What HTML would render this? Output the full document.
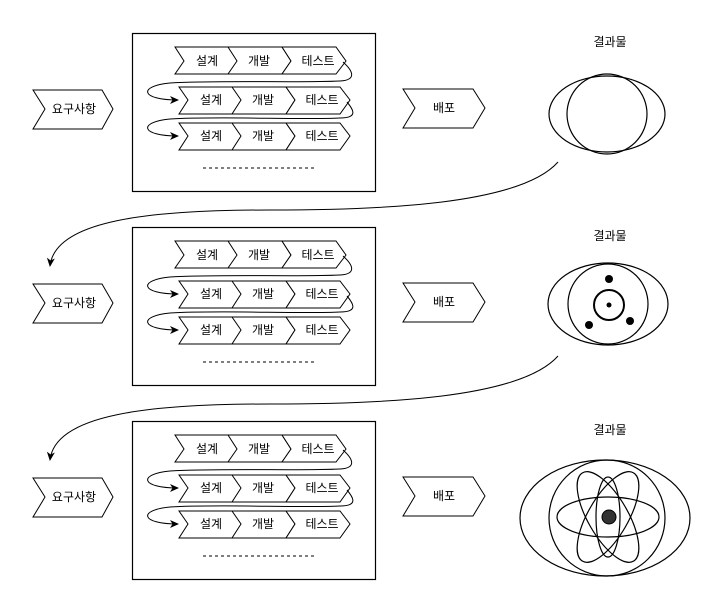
<!DOCTYPE html>
<html><head><meta charset="utf-8"><style>
html,body{margin:0;padding:0;background:#fff;}
svg text{font-family:"Liberation Sans","Noto Sans CJK KR",sans-serif;font-size:12px;fill:#000;text-anchor:middle;dominant-baseline:central;}
</style></head><body>
<svg width="727" height="598" viewBox="0 0 727 598" xmlns="http://www.w3.org/2000/svg">
<defs>
<marker id="ah" markerWidth="10" markerHeight="10" refX="8" refY="5" orient="auto" markerUnits="userSpaceOnUse">
<path d="M0,1 L9,5 L0,9 L2.5,5 Z" fill="#000"/>
</marker>
<g id="blk">
  <rect x="132.5" y="33.5" width="243" height="158" fill="#fff" stroke="#000" stroke-width="1.2"/>
  <g fill="#fff" stroke="#000" stroke-width="1">
    <path d="M175,47 L229,47 L238,61 L229,74 L175,74 L184,61 Z"/>
    <path d="M228,47 L282,47 L291,61 L282,74 L228,74 L237,61 Z"/>
    <path d="M282,47 L336,47 L346,61 L336,74 L282,74 L291,61 Z"/>
    <path d="M179,87 L233,87 L242,100 L233,114 L179,114 L188,100 Z"/>
    <path d="M232,87 L286,87 L295,100 L286,114 L232,114 L241,100 Z"/>
    <path d="M286,87 L340,87 L350,100 L340,114 L286,114 L295,100 Z"/>
    <path d="M179,123 L233,123 L242,136 L233,150 L179,150 L188,136 Z"/>
    <path d="M232,123 L286,123 L295,136 L286,150 L232,150 L241,136 Z"/>
    <path d="M286,123 L340,123 L350,136 L340,150 L286,150 L295,136 Z"/>
  </g>
  <text x="207" y="61">설계</text><text x="259" y="61">개발</text><text x="318" y="61">테스트</text>
  <text x="211" y="100">설계</text><text x="263" y="100">개발</text><text x="322" y="100">테스트</text>
  <text x="211" y="136">설계</text><text x="263" y="136">개발</text><text x="322" y="136">테스트</text>
  <path d="M343,62 C352,70 358,80 340,81 C300,83 220,80 170,83 C138,86 140,100 178,100" fill="none" stroke="#000" stroke-width="1" marker-end="url(#ah)"/>
  <path d="M347,102 C352,108 360,118 340,118 C300,120 220,116 170,119 C138,122 140,136 178,136" fill="none" stroke="#000" stroke-width="1" marker-end="url(#ah)"/>
  <line x1="203" y1="168" x2="315" y2="168" stroke="#000" stroke-width="1" stroke-dasharray="3,3"/>
  <path d="M33,90 L102,90 L113,109 L102,129 L33,129 L45,109 Z" fill="#fff" stroke="#000"/>
  <text x="74" y="109">요구사항</text>
  <path d="M403,89 L473,89 L485,108 L473,128 L403,128 L415,108 Z" fill="#fff" stroke="#000"/>
  <text x="444" y="108">배포</text>
  <text x="610" y="42">결과물</text>
</g>
</defs>
<use href="#blk"/>
<use href="#blk" y="194"/>
<use href="#blk" y="388"/>
<g fill="none" stroke="#000" stroke-width="1.2">
  <ellipse cx="607" cy="114" rx="58" ry="38"/>
  <circle cx="607" cy="114" r="40"/>
  <ellipse cx="608" cy="304" rx="60" ry="41"/>
  <circle cx="608" cy="304" r="40"/>
  <circle cx="609" cy="305" r="15" stroke-width="2"/>
  <ellipse cx="605" cy="518" rx="85" ry="58"/>
  <ellipse cx="607" cy="518" rx="58" ry="58"/>
  <ellipse cx="608" cy="517" rx="51" ry="20"/>
  <ellipse cx="608" cy="517" rx="51" ry="20" transform="rotate(60 608 517)"/>
  <ellipse cx="608" cy="517" rx="51" ry="20" transform="rotate(120 608 517)"/>
  <ellipse cx="608" cy="517" rx="12" ry="40"/>
</g>
<g fill="#000">
  <circle cx="609" cy="305" r="2.5"/>
  <circle cx="609" cy="279" r="4"/>
  <circle cx="589" cy="325" r="4"/>
  <circle cx="630" cy="321" r="4"/>
  <circle cx="609" cy="517" r="7" fill="#333" stroke="#000"/>
</g>
<path d="M558,162 C520,205 380,210 270,210 C150,210 55,220 50,266" fill="none" stroke="#000" stroke-width="1" marker-end="url(#ah)"/>
<path d="M558,356 C520,399 380,404 270,404 C150,404 55,414 50,460" fill="none" stroke="#000" stroke-width="1" marker-end="url(#ah)"/>
</svg>
</body></html>
